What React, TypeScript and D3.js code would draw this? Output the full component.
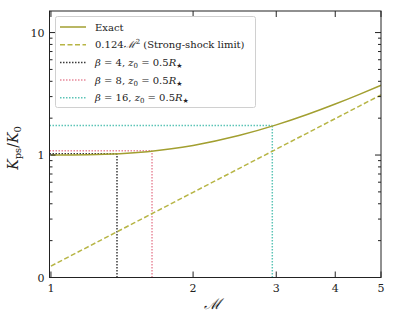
import * as d3 from "d3";

// Mach number samples and entropy ratio
const machExact = [1, 1.1, 1.2, 1.3, 1.4, 1.6, 1.8, 2, 2.5, 3, 3.5, 4, 4.5, 5];
const kExact = [1.0, 1.001, 1.005, 1.013, 1.026, 1.066, 1.124, 1.198, 1.442, 1.762, 2.152, 2.609, 3.13, 3.714];

const machStrong = [1, 1.5, 2, 2.5, 3, 3.5, 4, 4.5, 5];
const kStrong = [0.124, 0.279, 0.496, 0.775, 1.116, 1.519, 1.984, 2.511, 3.1];

// model markers (beta = 4, 8, 16)
const betas = [4, 8, 16];
const betaMach = [1.38, 1.637, 2.943];
const betaK = [1.025, 1.085, 1.74];
const betaColors = ["#3a3a3a", "#e8899a", "#5cc4b6"];

const xTicks = [1, 2, 3, 4, 5];
const yMajor = [0.1, 1, 10];
const yLabels = ["0", "1", "10"];
const yMinor = [0.2, 0.3, 0.4, 0.5, 0.6, 0.7, 0.8, 0.9, 2, 3, 4, 5, 6, 7, 8, 9];

const solidColor = "#a29f30";
const dashColor = "#b7b545";
const font = "'DejaVu Serif', serif";

export default function App() {
  const W = 394, H = 324;
  const left = 49.5, right = 381, top = 11, bottom = 277.5;

  const x = d3.scaleLog().domain([0.993, 5]).range([left, right]);
  const y = d3.scaleLog().domain([0.1, 15]).range([bottom, top]);

  const line = d3.line<[number, number]>()
    .x((d) => x(d[0]))
    .y((d) => y(d[1]))
    .curve(d3.curveMonotoneX);

  const exactPts = machExact.map((m, i) => [m, kExact[i]] as [number, number]);
  const strongPts = machStrong.map((m, i) => [m, kStrong[i]] as [number, number]);

  const legendRows = [
    { kind: "solid", color: solidColor },
    { kind: "dash", color: dashColor },
    ...betas.map((b, i) => ({ kind: "dot", color: betaColors[i], beta: b })),
  ];

  return (
    <svg width={W} height={H} style={{ position: "absolute", left: 0, top: 0 }}>
      <rect width={W} height={H} fill="#fff" />
      <defs>
        <clipPath id="plot">
          <rect x={left} y={top} width={right - left} height={bottom - top} />
        </clipPath>
      </defs>

      <g clipPath="url(#plot)">
        {betas.map((b, i) => (
          <g key={b} stroke={betaColors[i]} strokeWidth={1.5} strokeDasharray="1.5,1.5" fill="none">
            <line x1={x(betaMach[i])} x2={x(betaMach[i])} y1={bottom} y2={y(betaK[i])} />
            <line x1={left} x2={x(betaMach[i])} y1={y(betaK[i])} y2={y(betaK[i])} />
          </g>
        ))}
        <path d={line(strongPts) ?? ""} fill="none" stroke={dashColor} strokeWidth={1.5} strokeDasharray="5,2.5" />
        <path d={line(exactPts) ?? ""} fill="none" stroke={solidColor} strokeWidth={1.5} />
      </g>

      {/* frame */}
      <rect x={left} y={top} width={right - left} height={bottom - top} fill="none" stroke="#222" strokeWidth={1} />

      {/* x ticks */}
      {xTicks.map((t) => (
        <g key={t}>
          <line x1={x(t)} x2={x(t)} y1={bottom} y2={bottom - 6} stroke="#222" />
          <line x1={x(t)} x2={x(t)} y1={top} y2={top + 6} stroke="#222" />
          <text x={x(t)} y={bottom + 14} fontSize={11} fontFamily={font} textAnchor="middle" fill="#222">
            {t}
          </text>
        </g>
      ))}

      {/* y ticks */}
      {yMajor.map((t, i) => (
        <g key={t}>
          <line x1={left} x2={left + 6} y1={y(t)} y2={y(t)} stroke="#222" />
          <line x1={right} x2={right - 6} y1={y(t)} y2={y(t)} stroke="#222" />
          <text x={left - 5} y={y(t) + 4} fontSize={11} fontFamily={font} textAnchor="end" fill="#222">
            {yLabels[i]}
          </text>
        </g>
      ))}
      {yMinor.map((t) => (
        <g key={t}>
          <line x1={left} x2={left + 3} y1={y(t)} y2={y(t)} stroke="#222" />
          <line x1={right} x2={right - 3} y1={y(t)} y2={y(t)} stroke="#222" />
        </g>
      ))}

      {/* axis labels */}
      <text x={212} y={309} fontSize={15} fontFamily={font} fontStyle="italic" textAnchor="middle" fill="#222">
        ℳ
      </text>
      <text transform={`translate(18,${148}) rotate(-90)`} fontSize={14} fontFamily={font} textAnchor="middle" fill="#222">
        <tspan fontStyle="italic">K</tspan>
        <tspan fontSize={10} dy={3}>ps</tspan>
        <tspan dy={-3}>/</tspan>
        <tspan fontStyle="italic">K</tspan>
        <tspan fontSize={10} dy={3}>0</tspan>
      </text>

      {/* legend */}
      <rect x={55.5} y={16.5} width={200} height={91} rx={2} fill="#fff" stroke="#d0d0d0" strokeWidth={1} />
      {legendRows.map((r, i) => {
        const ry = 27 + i * 17.7;
        const dash = r.kind === "dash" ? "5,2.5" : r.kind === "dot" ? "1.5,1.5" : undefined;
        return (
          <g key={i}>
            <line x1={60} x2={86} y1={ry} y2={ry} stroke={r.color} strokeWidth={1.5} strokeDasharray={dash} />
            <text x={95} y={ry + 3.5} fontSize={10} fontFamily={font} fill="#222">
              {r.kind === "solid" && "Exact"}
              {r.kind === "dash" && (
                <>
                  0.124<tspan fontStyle="italic">ℳ</tspan>
                  <tspan fontSize={7} dy={-4}>2</tspan>
                  <tspan dy={4}> (Strong-shock limit)</tspan>
                </>
              )}
              {r.kind === "dot" && (
                <>
                  <tspan fontStyle="italic">β</tspan> = {(r as any).beta}, <tspan fontStyle="italic">z</tspan>
                  <tspan fontSize={7} dy={2}>0</tspan>
                  <tspan dy={-2}> = 0.5</tspan>
                  <tspan fontStyle="italic">R</tspan>
                  <tspan fontSize={7} dy={2} fontFamily="'DejaVu Sans', sans-serif">★</tspan>
                </>
              )}
            </text>
          </g>
        );
      })}
    </svg>
  );
}
